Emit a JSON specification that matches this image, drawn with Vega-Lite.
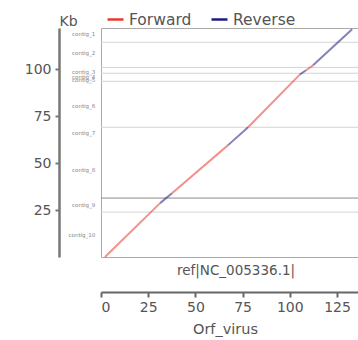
{
  "$schema": "https://vega.github.io/schema/vega-lite/v6.json",
  "width": 260,
  "height": 229,
  "autosize": {"type": "none"},
  "padding": {"left": 101, "top": 28, "right": 0, "bottom": 83},
  "config": {
    "font": "DejaVu Sans",
    "view": {"stroke": "#aaaaaa", "strokeWidth": 1},
    "axis": {"grid": false}
  },
  "datasets": {
    "hlines": [
      {"kb": 114.4, "tone": "light"},
      {"kb": 101.0, "tone": "light"},
      {"kb": 97.9, "tone": "light"},
      {"kb": 93.6, "tone": "light"},
      {"kb": 69.1, "tone": "light"},
      {"kb": 31.4, "tone": "dark"},
      {"kb": 23.9, "tone": "light"}
    ],
    "segments": [
      {"x": 2.1, "y": 0.0, "x2": 31.3, "y2": 28.7, "strand": "Forward"},
      {"x": 31.3, "y": 28.7, "x2": 37.6, "y2": 34.0, "strand": "Reverse"},
      {"x": 37.6, "y": 34.0, "x2": 67.3, "y2": 59.6, "strand": "Forward"},
      {"x": 67.3, "y": 59.6, "x2": 77.9, "y2": 69.1, "strand": "Reverse"},
      {"x": 77.9, "y": 69.1, "x2": 105.4, "y2": 97.3, "strand": "Forward"},
      {"x": 105.4, "y": 97.3, "x2": 108.6, "y2": 99.5, "strand": "Reverse"},
      {"x": 108.6, "y": 99.5, "x2": 112.3, "y2": 102.1, "strand": "Forward"},
      {"x": 112.3, "y": 102.1, "x2": 133.0, "y2": 121.3, "strand": "Reverse"}
    ],
    "contigs": [
      {"kb": 118.8, "name": "contig_1"},
      {"kb": 108.7, "name": "contig_2"},
      {"kb": 98.6, "name": "contig_3"},
      {"kb": 95.9, "name": "contig_4"},
      {"kb": 94.3, "name": "contig_5"},
      {"kb": 80.4, "name": "contig_6"},
      {"kb": 66.1, "name": "contig_7"},
      {"kb": 46.4, "name": "contig_8"},
      {"kb": 27.7, "name": "contig_9"},
      {"kb": 11.7, "name": "contig_10"}
    ]
  },
  "layer": [
    {
      "data": {"name": "hlines"},
      "transform": [{"filter": "datum.tone === 'light'"}],
      "mark": {"type": "rule", "color": "#d4d4d4", "strokeWidth": 1},
      "encoding": {"y": {"field": "kb", "type": "quantitative"}}
    },
    {
      "data": {"name": "hlines"},
      "transform": [{"filter": "datum.tone === 'dark'"}],
      "mark": {"type": "rule", "color": "#8a8a8a", "strokeWidth": 1},
      "encoding": {"y": {"field": "kb", "type": "quantitative"}}
    },
    {
      "data": {"name": "segments"},
      "mark": {"type": "rule", "strokeWidth": 2, "opacity": 0.55, "clip": false},
      "encoding": {
        "x": {
          "field": "x", "type": "quantitative",
          "scale": {"domain": [0, 137.7], "nice": false, "zero": false},
          "axis": {
            "orient": "bottom", "offset": 35, "values": [0, 25, 50, 75, 100, 125],
            "domainColor": "#666666", "domainWidth": 2, "tickColor": "#666666", "tickWidth": 2, "tickSize": 5,
            "labelFontSize": 14, "labelColor": "#555555", "labelPadding": 3,
            "title": "Orf_virus", "titleFontSize": 14.5, "titleFontWeight": "normal", "titleColor": "#555555",
            "titlePadding": 8, "titleX": 124
          }
        },
        "y": {
          "field": "y", "type": "quantitative",
          "scale": {"domain": [0, 122], "nice": false, "zero": false},
          "axis": {
            "orient": "left", "offset": 42, "values": [25, 50, 75, 100],
            "domainColor": "#777777", "domainWidth": 2.5, "tickColor": "#777777", "tickWidth": 2, "tickSize": 4,
            "labelFontSize": 14, "labelColor": "#555555", "labelPadding": 4,
            "title": "Kb", "titleAngle": 0, "titleX": 9, "titleY": -3, "titleAlign": "center", "titleBaseline": "alphabetic",
            "titleFontSize": 14, "titleFontWeight": "normal", "titleColor": "#555555"
          }
        },
        "x2": {"field": "x2"},
        "y2": {"field": "y2"},
        "color": {
          "field": "strand", "type": "nominal",
          "scale": {"domain": ["Forward", "Reverse"], "range": ["#e8392b", "#1c1c80"]},
          "legend": {
            "orient": "none", "legendX": 5, "legendY": -18, "direction": "horizontal", "title": null,
            "symbolType": "stroke", "symbolSize": 256, "symbolStrokeWidth": 2.5, "symbolOpacity": 1,
            "labelFontSize": 15.5, "labelColor": "#555555", "labelOffset": 4, "columnPadding": 14
          }
        }
      }
    },
    {
      "data": {"name": "contigs"},
      "mark": {"type": "text", "align": "right", "baseline": "middle", "fontSize": 5.5, "color": "#888888", "clip": false},
      "encoding": {
        "x": {"datum": -3, "type": "quantitative"},
        "y": {"field": "kb", "type": "quantitative"},
        "text": {"field": "name"}
      }
    },
    {
      "data": {"values": [{"label": "ref|NC_005336.1|", "kb": 71.5, "ypos": -7.5}]},
      "mark": {"type": "text", "align": "center", "baseline": "middle", "fontSize": 13.5, "color": "#555555", "clip": false},
      "encoding": {
        "x": {"field": "kb", "type": "quantitative"},
        "y": {"field": "ypos", "type": "quantitative"},
        "text": {"field": "label"}
      }
    }
  ]
}
